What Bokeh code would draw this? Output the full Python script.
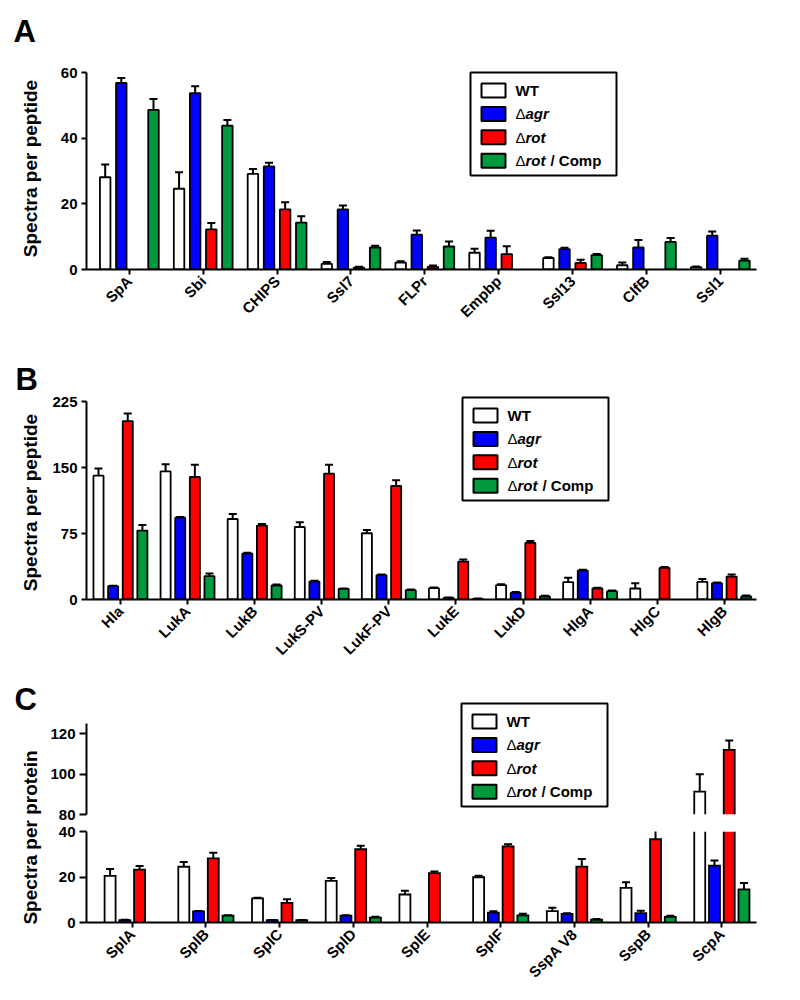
import numpy as np
from math import pi
from bokeh.plotting import figure
from bokeh.models import (ColumnDataSource, Range1d, FixedTicker, Whisker, TeeHead,
                          Label, BoxAnnotation)
from bokeh.layouts import column, row
from bokeh.embed import file_html
from bokeh.resources import INLINE

FONT = "Liberation Sans"

# ---------------- data ----------------
series = ["WT", "agr", "rot", "rot / Comp"]
colors = ["#FFFFFF", "#0000FF", "#FF0000", "#009A3E"]

# Panel A  (spectra per peptide)
a_cats = ["SpA", "Sbi", "CHIPS", "Ssl7", "FLPr", "Empbp", "Ssl13", "ClfB", "Ssl1"]
a_wt = [28.1, 24.6, 29.1, 1.7, 2.1, 5.1, 3.5, 1.3, 0.7]
a_wt_sem = [3.9, 5.0, 1.5, 0.6, 0.4, 1.2, 0.2, 0.8, 0.2]
a_agr = [56.8, 53.7, 31.4, 18.3, 10.6, 9.7, 6.2, 6.7, 10.3]
a_agr_sem = [1.5, 2.1, 1.1, 1.2, 1.3, 2.1, 0.4, 2.3, 1.3]
a_rot = [0, 12.2, 18.3, 0.6, 0.8, 4.7, 2.0, 0, 0]
a_rot_sem = [0, 2.0, 2.2, 0.2, 0.4, 2.4, 1.0, 0, 0]
a_comp = [48.6, 43.8, 14.3, 6.7, 7.0, 0, 4.4, 8.4, 2.7]
a_comp_sem = [3.3, 1.7, 1.9, 0.5, 1.5, 0, 0.3, 1.2, 0.6]
a_yticks = [0, 20, 40, 60]

# Panel B  (spectra per peptide)
b_cats = ["Hla", "LukA", "LukB", "LukS-PV", "LukF-PV", "LukE", "LukD", "HlgA", "HlgC", "HlgB"]
b_wt = [140.7, 145.6, 91.5, 82.4, 75.3, 12.9, 16.3, 19.7, 12.5, 20.0]
b_wt_sem = [8.3, 8.0, 5.7, 5.3, 3.7, 0.7, 1.1, 4.9, 6.0, 3.4]
b_agr = [15.1, 93.0, 52.2, 20.4, 27.6, 1.9, 7.6, 32.9, 0, 18.5]
b_agr_sem = [0.5, 0.8, 0.8, 0.8, 0.8, 0.3, 0.8, 0.8, 0, 0.8]
b_rot = [202.7, 139.2, 84.0, 143.0, 129.0, 43.1, 64.3, 12.5, 35.9, 26.1]
b_rot_sem = [8.7, 14.0, 1.9, 10.2, 6.4, 2.3, 2.3, 0.8, 1.1, 2.3]
b_comp = [78.3, 26.5, 15.9, 12.1, 10.6, 0.8, 3.4, 9.5, 0, 3.4]
b_comp_sem = [6.4, 3.0, 1.1, 0.4, 0.7, 0.2, 0.8, 0.8, 0, 1.1]
b_yticks = [0, 75, 150, 225]

# Panel C  (spectra per protein, broken y axis)
c_cats = ["SplA", "SplB", "SplC", "SplD", "SplE", "SplF", "SspA V8", "SspB", "ScpA"]
c_wt = [20.5, 24.5, 10.6, 18.3, 12.3, 19.9, 5.0, 15.2, 91.4]
c_wt_sem = [3.0, 2.1, 0.3, 1.3, 1.7, 0.6, 1.5, 2.5, 8.6]
c_agr = [1.0, 4.9, 1.0, 3.0, 0, 4.3, 3.8, 4.1, 25.0]
c_agr_sem = [0.2, 0.2, 0.1, 0.2, 0, 0.6, 0.3, 1.1, 2.2]
c_rot = [23.2, 28.2, 8.6, 32.2, 21.7, 33.5, 24.6, 36.6, 112.1]
c_rot_sem = [1.6, 2.5, 1.6, 1.5, 0.7, 0.9, 3.3, 4.3, 4.6]
c_comp = [0, 3.0, 1.0, 2.1, 0, 3.1, 1.2, 2.5, 14.6]
c_comp_sem = [0, 0.2, 0.1, 0.4, 0, 0.7, 0.3, 0.5, 2.8]
c_yticks_low = [0, 20, 40]
c_yticks_high = [80, 100, 120]
c_high_top = 125

ylabel_a = "Spectra per peptide"
ylabel_b = "Spectra per peptide"
ylabel_c = "Spectra per protein"


# ---------------- helpers ----------------
def style(p, yticks, bounds, tick_out_y=5):
    p.grid.visible = False
    p.outline_line_color = None
    p.background_fill_color = "white"
    p.border_fill_color = "white"
    p.yaxis.ticker = FixedTicker(ticks=yticks)
    p.yaxis.bounds = bounds
    for ax in p.axis:
        ax.axis_line_width = 2
        ax.axis_line_color = "black"
        ax.major_tick_line_width = 2
        ax.major_tick_line_color = "black"
        ax.major_tick_in = 0
        ax.major_tick_out = 5
        ax.minor_tick_line_color = None
        ax.major_label_text_font = FONT
        ax.major_label_text_font_style = "bold"
        ax.major_label_text_font_size = "15px"
        ax.major_label_text_color = "black"
    for ax in p.yaxis:
        ax.major_tick_out = tick_out_y
        ax.major_label_standoff = 4


def set_xcats(p, cats):
    p.xaxis.ticker = FixedTicker(ticks=list(range(len(cats))))
    p.xaxis.major_label_overrides = {i: c for i, c in enumerate(cats)}
    p.xaxis.major_label_orientation = pi / 4
    p.xaxis.major_label_standoff = 4


def add_whiskers(p, x, lower, upper):
    if len(x) == 0:
        return
    wsrc = ColumnDataSource(dict(base=x, lower=lower, upper=upper))
    p.add_layout(Whisker(source=wsrc, base="base", lower="lower", upper="upper",
                         dimension="height", line_width=2, line_color="black",
                         lower_head=None,
                         upper_head=TeeHead(size=8, line_width=2, line_color="black")))


def draw_bars(p, n, vals, sems, offsets, width):
    idx = np.arange(n)
    for v, s, off, col in zip(vals, sems, offsets, colors):
        v = np.asarray(v, float)
        s = np.asarray(s, float)
        keep = v > 0
        p.vbar(x=idx[keep] + off, top=v[keep], bottom=0, width=width,
               fill_color=col, line_color="black", line_width=1.8)
        wk = keep & (s > 0)
        add_whiskers(p, idx[wk] + off, v[wk], v[wk] + s[wk])


def draw_bars_segment(p, n, vals, sems, offsets, width, lo, hi):
    """Bars of one segment of a broken axis: [lo, hi] (hi=None -> open top)."""
    idx = np.arange(n)
    for v, s, off, col in zip(vals, sems, offsets, colors):
        v = np.asarray(v, float)
        s = np.asarray(s, float)
        keep = v > lo
        x = idx[keep] + off
        top = v[keep]
        vis_top = top if hi is None else np.minimum(top, hi)
        p.vbar(x=x, top=vis_top, bottom=lo, width=width, fill_color=col, line_color=None)
        xs, ys = [], []
        for xi, t in zip(x, top):
            l, r = xi - width / 2, xi + width / 2
            if hi is not None and t > hi:
                xs += [[l, l], [r, r]]
                ys += [[lo, hi], [lo, hi]]
            else:
                xs.append([l, l, r, r])
                ys.append([lo, t, t, lo])
        if xs:
            p.multi_line(xs, ys, line_color="black", line_width=1.8, line_join="miter")
        wk = keep & (s > 0)
        if hi is not None:
            wk = wk & (v < hi)
        add_whiskers(p, idx[wk] + off, v[wk], v[wk] + s[wk])


def lab(p, x, y, text, size="15px", style="bold", **kw):
    p.add_layout(Label(x=x, y=y, x_units="screen", y_units="screen", text=text,
                       text_font=FONT, text_font_size=size, text_font_style=style,
                       text_color="black", **kw))


def add_legend(p, left, top):
    w, h = 146, 103
    p.add_layout(BoxAnnotation(left=left, right=left + w, top=top, bottom=top - h,
                               left_units="screen", right_units="screen",
                               top_units="screen", bottom_units="screen",
                               fill_color="white", fill_alpha=1.0,
                               line_color="black", line_alpha=1.0, line_width=2))
    for i, (name, col) in enumerate(zip(series, colors)):
        cy = top - 18 - i * 23.4
        p.add_layout(BoxAnnotation(left=left + 11, right=left + 35, top=cy + 7, bottom=cy - 7,
                                   left_units="screen", right_units="screen",
                                   top_units="screen", bottom_units="screen",
                                   fill_color=col, fill_alpha=1.0,
                                   line_color="black", line_alpha=1.0, line_width=2))
        tx = left + 45
        if i == 0:
            lab(p, tx, cy, name, text_baseline="middle")
        else:
            lab(p, tx, cy, "\u0394", style="normal", text_baseline="middle")
            word = name.split(" / ")[0]
            lab(p, tx + 10, cy, word, style="bold italic", text_baseline="middle")
            if " / " in name:
                lab(p, tx + 10 + 25, cy, "/ Comp", text_baseline="middle")


def new_fig(w, h, xr, yr, left, right, top, bottom, **kw):
    return figure(width=w, height=h, x_range=xr, y_range=yr,
                  output_backend="svg", toolbar_location=None,
                  min_border_left=left, min_border_right=right,
                  min_border_top=top, min_border_bottom=bottom, **kw)


OFFS = [-0.327, -0.109, 0.109, 0.327]
MAIN_W = 754

# ---------------- Panel A ----------------
pA = new_fig(MAIN_W, 334, Range1d(-0.58, 8.49), Range1d(0, 63.05), 31, 15, 62, 65)
draw_bars(pA, len(a_cats), [a_wt, a_agr, a_rot, a_comp],
          [a_wt_sem, a_agr_sem, a_rot_sem, a_comp_sem], OFFS, 0.142)
style(pA, a_yticks, (a_yticks[0], a_yticks[-1]))
set_xcats(pA, a_cats)
add_legend(pA, 384, 197)

# ---------------- Panel B ----------------
pB = new_fig(MAIN_W, 334, Range1d(-0.506, 9.48), Range1d(0, 243.2), 39, 44, 51, 69)
draw_bars(pB, len(b_cats), [b_wt, b_agr, b_rot, b_comp],
          [b_wt_sem, b_agr_sem, b_rot_sem, b_comp_sem], OFFS, 0.15)
style(pB, b_yticks, (b_yticks[0], b_yticks[-1]))
set_xcats(pB, b_cats)
add_legend(pB, 376, 202)

# ---------------- Panel C (broken y axis: two stacked frames) ----------------
xr_c = Range1d(-0.62, 8.47)
OFFS_C = [-0.30, -0.10, 0.10, 0.30]
c_vals = [c_wt, c_agr, c_rot, c_comp]
c_sems = [c_wt_sem, c_agr_sem, c_rot_sem, c_comp_sem]

pC1 = new_fig(MAIN_W, 154, xr_c, Range1d(80, 141.54), 40, 23, 22, 8, x_axis_location=None)
draw_bars_segment(pC1, len(c_cats), c_vals, c_sems, OFFS_C, 0.149,
                  c_yticks_high[0], None)
style(pC1, c_yticks_high, (c_yticks_high[0], c_high_top), tick_out_y=7)
add_legend(pC1, 375, 111)

pC2 = new_fig(MAIN_W, 178, xr_c, Range1d(0, 40), 40, 23, 9, 78)
draw_bars_segment(pC2, len(c_cats), c_vals, c_sems, OFFS_C, 0.149,
                  c_yticks_low[0], c_yticks_low[-1])
style(pC2, c_yticks_low, (c_yticks_low[0], c_yticks_low[-1]), tick_out_y=7)
set_xcats(pC2, c_cats)

# ---------------- left strip: panel letters and y-axis titles ----------------
strip = figure(width=46, height=1000, x_range=Range1d(0, 1), y_range=Range1d(0, 1),
               output_backend="svg", toolbar_location=None,
               x_axis_location=None, y_axis_location=None,
               min_border_left=0, min_border_right=0, min_border_top=0, min_border_bottom=0)
strip.grid.visible = False
strip.outline_line_color = None
for letter, (lx, ly) in zip(["A", "B", "C"], [(13, 969), (15, 621), (14, 301)]):
    lab(strip, lx, ly, letter, size="31px", style="bold", text_baseline="alphabetic")
for text, ly in zip([ylabel_a, ylabel_b, ylabel_c], [832, 498, 163]):
    lab(strip, 30, ly, text, size="19px", style="bold",
        angle=pi / 2, text_align="center", text_baseline="middle")

layout = row(strip, column(pA, pB, pC1, pC2, spacing=0), spacing=0)
open("out.html", "w").write(file_html(layout, INLINE))
